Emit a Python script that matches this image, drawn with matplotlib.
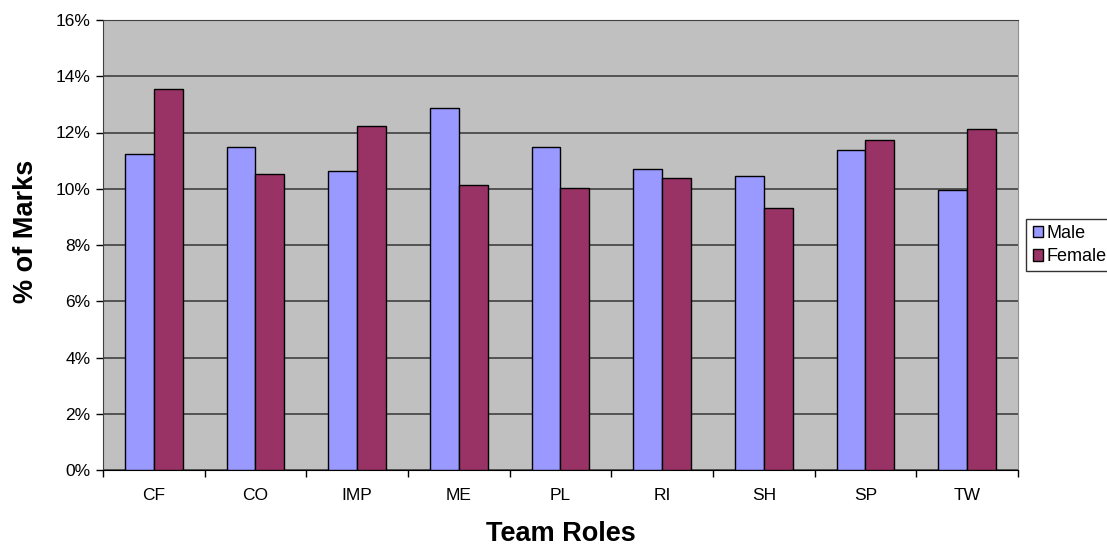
import numpy as np
import matplotlib
matplotlib.use("Agg")
import matplotlib.pyplot as plt
from matplotlib.ticker import FuncFormatter

roles = ["CF", "CO", "IMP", "ME", "PL", "RI", "SH", "SP", "TW"]
male = [11.23, 11.48, 10.64, 12.86, 11.49, 10.71, 10.44, 11.39, 9.96]
female = [13.56, 10.53, 12.22, 10.12, 10.04, 10.38, 9.31, 11.72, 12.13]
yticks = [0, 2, 4, 6, 8, 10, 12, 14, 16]

plt.rcParams["font.family"] = ["Liberation Sans", "DejaVu Sans"]

fig = plt.figure(figsize=(11.07, 5.47), dpi=100)
ax = fig.add_axes([103 / 1107, 1 - 470 / 547, 915 / 1107, 450 / 547])
ax.set_facecolor("#c0c0c0")

x = np.arange(len(roles))
w = 0.285
ax.bar(x - w / 2, male, w, color="#9999ff", edgecolor="black", linewidth=1, label="Male", zorder=3)
ax.bar(x + w / 2, female, w, color="#993366", edgecolor="black", linewidth=1, label="Female", zorder=3)

ax.set_xlim(-0.5, len(roles) - 0.5)
ax.set_ylim(0, 16)
ax.set_yticks(yticks)
ax.yaxis.set_major_formatter(FuncFormatter(lambda v, p: f"{v:.0f}%"))
ax.grid(axis="y", color="#404040", linewidth=1.2, zorder=1)

ax.set_xticks(x)
ax.set_xticklabels(roles)
ax.set_xticks(np.arange(len(roles) + 1) - 0.5, minor=True)
ax.tick_params(axis="x", which="major", length=0, pad=13, labelsize=12.5)
ax.tick_params(axis="x", which="minor", length=5, width=1, direction="out")
ax.tick_params(axis="y", length=5, width=1, direction="out", labelsize=12.5, pad=4)

ax.spines["top"].set_color("#404040")
ax.spines["right"].set_color("#909090")
ax.spines["left"].set_color("#404040")
ax.spines["bottom"].set_color("black")

ax.set_ylabel("% of Marks", fontsize=19.5, fontweight="bold", labelpad=12)
ax.yaxis.label.set_y(0.53)
ax.set_xlabel("Team Roles", fontsize=19.5, fontweight="bold", labelpad=13)

leg = ax.legend(loc="center left", bbox_to_anchor=(1.009, 0.5), fontsize=13,
                frameon=True, fancybox=False, edgecolor="black",
                handlelength=0.6, handleheight=0.6, handletextpad=0.2,
                borderpad=0.35, labelspacing=0.35, borderaxespad=0)
leg.get_frame().set_linewidth(1)

fig.savefig("out.png", dpi=100, facecolor="white")
